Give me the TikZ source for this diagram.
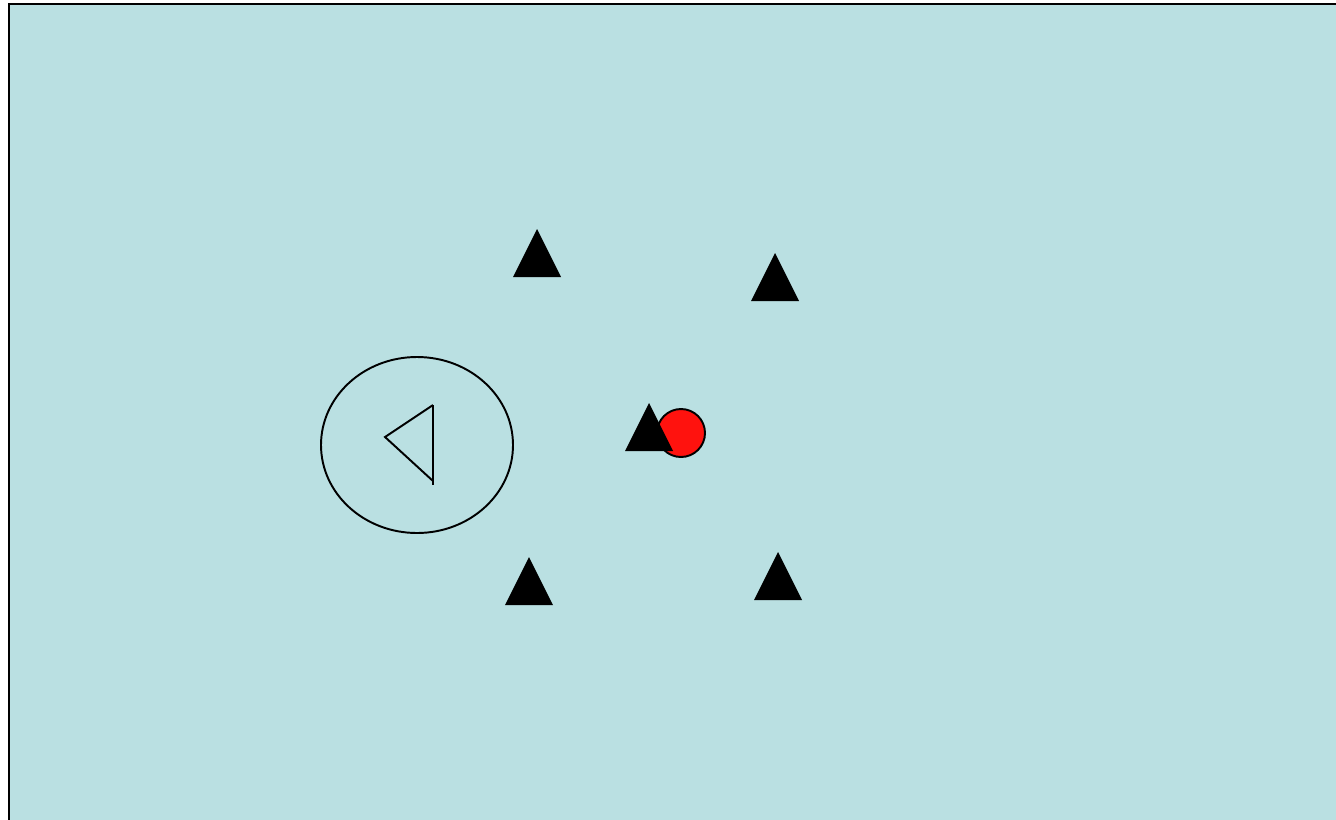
\documentclass[tikz,border=0pt]{standalone}
\usepackage{tikz}
\definecolor{pitch}{RGB}{186,224,226}
\definecolor{ballred}{RGB}{255,18,14}

\begin{document}
\begin{tikzpicture}[x=0.02cm, y=-0.02cm,
    cone/.style={fill=black},
    outline/.style={draw=black, line width=1.1pt}]
  \useasboundingbox (0,0) rectangle (1336,819);
  \clip (0,0) rectangle (1336,819);
  % playing area
  \draw[fill=pitch, line width=1.4pt] (9,4) rectangle (1360,840);
  % zone with the arrow head
  \draw[outline] (417,445) ellipse [x radius=96, y radius=88];
  \draw[outline, line join=miter] (433,405) -- (385,437) -- (433,481);
  \draw[outline] (433,405) -- (433,485);
  % ball
  \draw[outline, fill=ballred] (681,433) circle (24);
  % cones
  \foreach \cx/\cy in {537/229, 775/253, 649/403, 529/557, 778/552}
    \fill[cone] (\cx,\cy) -- (\cx+24,\cy+48) -- (\cx-24,\cy+48) -- cycle;
\end{tikzpicture}
\end{document}
